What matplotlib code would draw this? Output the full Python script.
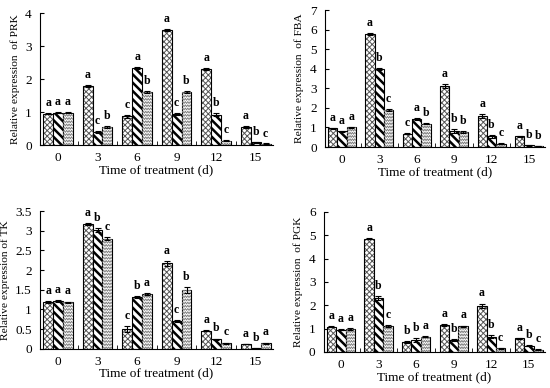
import numpy as np
import matplotlib
matplotlib.use("Agg")
from matplotlib import pyplot as plt
from matplotlib.collections import LineCollection

plt.rcParams["font.family"] = "Liberation Serif"
plt.rcParams["hatch.linewidth"] = 0.8

days = ["0", "3", "6", "9", "12", "15"]

# PRK
prk_1 = [0.95, 1.80, 0.87, 3.48, 2.30, 0.55]
prk_2 = [0.98, 0.40, 2.35, 0.93, 0.92, 0.08]
prk_3 = [0.98, 0.55, 1.62, 1.60, 0.13, 0.04]
prk_err_1 = [0.02, 0.03, 0.04, 0.03, 0.03, 0.03]
prk_err_2 = [0.02, 0.02, 0.03, 0.03, 0.05, 0.02]
prk_err_3 = [0.02, 0.03, 0.03, 0.03, 0.02, 0.01]
prk_letters = [["a", "a", "a"], ["a", "c", "b"], ["c", "a", "b"],
               ["a", "c", "b"], ["a", "b", "c"], ["a", "b", "c"]]

# FBA
fba_1 = [0.95, 5.78, 0.68, 3.10, 1.60, 0.55]
fba_2 = [0.80, 3.97, 1.45, 0.80, 0.55, 0.08]
fba_3 = [1.00, 1.90, 1.20, 0.78, 0.18, 0.05]
fba_err_1 = [0.03, 0.03, 0.03, 0.10, 0.10, 0.03]
fba_err_2 = [0.03, 0.05, 0.05, 0.10, 0.08, 0.02]
fba_err_3 = [0.03, 0.04, 0.04, 0.04, 0.03, 0.01]
fba_letters = [["a", "a", "a"], ["a", "b", "c"], ["c", "a", "b"],
               ["a", "b", "b"], ["a", "b", "c"], ["a", "b", "b"]]

# TK
tk_1 = [1.19, 3.17, 0.50, 2.17, 0.46, 0.12]
tk_2 = [1.21, 3.02, 1.32, 0.71, 0.24, 0.01]
tk_3 = [1.18, 2.80, 1.39, 1.50, 0.14, 0.14]
tk_err_1 = [0.02, 0.03, 0.07, 0.07, 0.02, 0.01]
tk_err_2 = [0.02, 0.04, 0.03, 0.02, 0.02, 0.01]
tk_err_3 = [0.02, 0.03, 0.02, 0.07, 0.02, 0.02]
tk_letters = [["a", "a", "a"], ["a", "b", "c"], ["c", "b", "a"],
              ["a", "c", "b"], ["a", "b", "c"], ["a", "b", "a"]]

# PGK
pgk_1 = [1.08, 4.85, 0.43, 1.15, 1.97, 0.58]
pgk_2 = [0.95, 2.30, 0.50, 0.50, 0.65, 0.27]
pgk_3 = [0.98, 1.10, 0.65, 1.10, 0.15, 0.10]
pgk_err_1 = [0.03, 0.03, 0.03, 0.04, 0.10, 0.02]
pgk_err_2 = [0.03, 0.08, 0.08, 0.04, 0.07, 0.02]
pgk_err_3 = [0.03, 0.05, 0.03, 0.03, 0.02, 0.01]
pgk_letters = [["a", "a", "a"], ["a", "b", "c"], ["b", "b", "a"],
               ["a", "b", "a"], ["a", "b", "c"], ["a", "b", "c"]]

panels = [
    ([0.073, 0.626, 0.423, 0.340], "Relative expression  of PRK", 4, 1,
     [prk_1, prk_2, prk_3], [prk_err_1, prk_err_2, prk_err_3], prk_letters),
    ([0.591, 0.621, 0.400, 0.353], "Relative expression  of FBA", 7, 1,
     [fba_1, fba_2, fba_3], [fba_err_1, fba_err_2, fba_err_3], fba_letters),
    ([0.073, 0.101, 0.423, 0.355], "Relative expression of TK", 3.5, 0.5,
     [tk_1, tk_2, tk_3], [tk_err_1, tk_err_2, tk_err_3], tk_letters),
    ([0.589, 0.093, 0.402, 0.361], "Relative expression  of PGK", 6, 1,
     [pgk_1, pgk_2, pgk_3], [pgk_err_1, pgk_err_2, pgk_err_3], pgk_letters),
]

hatches = ["xxxxxx", "\\\\\\\\", None]
hatch_colors = ["#555555", "black", "#888888"]
hatch_widths = [0.7, 1.8, 0.8]
offsets = [-0.25, 0, 0.25]
width = 0.25
fig_h = 388


def zigzag_fill(ax, patch, ymax, axes_h_px):
    # wavy pattern for the third series, clipped to the bar
    x0 = patch.get_x()
    w = patch.get_width()
    h = patch.get_height()
    step = ymax / axes_h_px * 3.2
    amp = step * 0.6
    xs = x0 + w * np.linspace(0, 1, 9)
    segs = []
    y = 0
    while y < h + step:
        ys = [y + (amp if j % 2 else 0) for j in range(len(xs))]
        segs.append(list(zip(xs, ys)))
        y += step
    lc = LineCollection(segs, colors="#808080", linewidths=0.7)
    ax.add_collection(lc)
    lc.set_clip_path(patch)


fig = plt.figure(figsize=(5.5, 3.88), dpi=100)
x = np.arange(len(days))

for rect, ylabel, ymax, ystep, series, errors, letters in panels:
    ax = fig.add_axes(rect)
    for k in range(3):
        with plt.rc_context({"hatch.linewidth": hatch_widths[k]}):
            bars = ax.bar(x + offsets[k], series[k], width, color="white",
                          edgecolor=hatch_colors[k], hatch=hatches[k],
                          linewidth=0)
        if k == 2:
            for b in bars:
                zigzag_fill(ax, b, ymax, rect[3] * fig_h)
        ax.bar(x + offsets[k], series[k], width, color="none",
               edgecolor="black", linewidth=0.8)
        ax.errorbar(x + offsets[k], series[k], yerr=errors[k], fmt="none",
                    ecolor="black", elinewidth=0.8, capsize=2.5, capthick=0.8)
        for i in range(len(days)):
            ax.text(x[i] + offsets[k], series[k][i] + errors[k][i] + ymax * 0.03,
                    letters[i][k], ha="center", va="bottom", fontsize=8.5,
                    fontweight="bold")

    ax.set_xlim(-0.45, 5.43)
    ax.set_ylim(0, ymax)
    ticks = np.arange(0, ymax + ystep / 2, ystep)
    ax.set_yticks(ticks)
    ax.set_yticklabels([f"{v:g}" for v in ticks])
    ax.set_xticks(x)
    ax.set_xticklabels(days)
    ax.set_xticks(x[:-1] + 0.5, minor=True)
    ax.tick_params(axis="x", which="major", length=0, labelsize=9.5, pad=5)
    ax.tick_params(axis="x", which="minor", direction="in", length=3)
    ax.tick_params(axis="y", direction="in", length=3, labelsize=9.5, pad=6)
    ax.spines["top"].set_visible(False)
    ax.spines["right"].set_visible(False)
    ax.set_ylabel(ylabel, fontsize=8.2, labelpad=4)
    ax.set_xlabel("Time of treatment (d)", fontsize=9.5, labelpad=0)

fig.savefig("out.png", dpi=100)
